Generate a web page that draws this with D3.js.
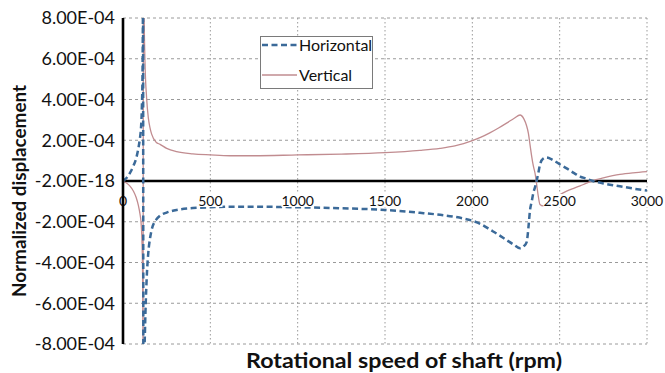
<!DOCTYPE html>
<html>
<head>
<meta charset="utf-8">
<script src="https://cdn.jsdelivr.net/npm/d3@7/dist/d3.min.js"></script>
<style>
  html, body { margin: 0; padding: 0; background: #fff; }
  svg { display: block; }
  text { font-family: Lato, "Open Sans", "DejaVu Sans", sans-serif; fill: #111; }
</style>
</head>
<body>
<svg id="chart" width="665" height="373"></svg>
<script>
// Shaft speed samples (rpm); the first resonance sits between 115 and 117 rpm
const rpm = [0, 20, 40, 60, 75, 88, 97, 103, 108, 112, 115, 117, 120, 126, 135, 145, 155, 164, 190, 212, 250, 307, 400, 500, 613, 750, 1000, 1250, 1500, 1700, 1815, 1900, 1950, 2000, 2050, 2100, 2150, 2196, 2240, 2273, 2295, 2311, 2321, 2330, 2340, 2349, 2359, 2368, 2378, 2387, 2406, 2425, 2445, 2464, 2500, 2540, 2580, 2617, 2650, 2690, 2750, 2845, 2920, 3000];

// Normalized displacement, in units of 1e-4
const horizontal = [0, 0.15, 0.4, 0.75, 1.1, 1.6, 2.1, 2.6, 3.6, 5.5, 10, -16, -10, -7.3, -4.9, -3.5, -2.8, -2.4, -1.9, -1.7, -1.55, -1.42, -1.33, -1.29, -1.26, -1.26, -1.29, -1.34, -1.42, -1.56, -1.66, -1.76, -1.84, -1.95, -2.12, -2.38, -2.64, -2.9, -3.14, -3.3, -3.2, -3.0, -2.3, -1.45, -1.0, -0.6, -0.3, 0, 0.4, 0.79, 1.1, 1.16, 1.1, 1.02, 0.82, 0.62, 0.4, 0.22, 0.12, 0.0, -0.12, -0.26, -0.37, -0.47];
const vertical = [0, -0.1, -0.25, -0.5, -0.8, -1.2, -1.6, -2.0, -2.8, -4.5, -9, 16, 9, 5.8, 4.1, 3.1, 2.6, 2.3, 1.9, 1.8, 1.6, 1.44, 1.33, 1.28, 1.24, 1.24, 1.28, 1.32, 1.39, 1.5, 1.6, 1.72, 1.83, 1.98, 2.15, 2.36, 2.6, 2.84, 3.08, 3.24, 3.05, 2.7, 2.34, 1.8, 1.2, 0.75, 0.38, -0.15, -0.77, -1.15, -1.22, -1.15, -1.0, -0.9, -0.68, -0.5, -0.36, -0.24, -0.12, 0.02, 0.15, 0.32, 0.4, 0.46];

// Index of the first sample past the resonance jump
const resonanceSplit = 11;

// Axis ticks and their printed labels
const xTicks = [0, 500, 1000, 1500, 2000, 2500, 3000];
const yTicks = [8, 6, 4, 2, 0, -2, -4, -6, -8];
const yTickLabels = ["8.00E-04", "6.00E-04", "4.00E-04", "2.00E-04", "-2.00E-18", "-2.00E-04", "-4.00E-04", "-6.00E-04", "-8.00E-04"];

const seriesNames = ["Horizontal", "Vertical"];

const svg = d3.select("#chart");
const plotLeft = 123, plotRight = 647, plotTop = 18, plotBottom = 344;

const x = d3.scaleLinear().domain([0, 3000]).range([plotLeft, plotRight]);
const y = d3.scaleLinear().domain([-8, 8]).range([plotBottom, plotTop]);

// Gridlines
const grid = svg.append("g");
grid.selectAll("line.h").data(yTicks.filter(d => d !== 0)).join("line")
  .attr("class", "h")
  .attr("x1", plotLeft).attr("x2", plotRight)
  .attr("y1", d => y(d)).attr("y2", d => y(d))
  .attr("stroke", "#9a9a9a").attr("stroke-width", 1).attr("stroke-dasharray", "3,3");
grid.selectAll("line.v").data(xTicks.filter(d => d !== 0)).join("line")
  .attr("class", "v")
  .attr("x1", d => x(d)).attr("x2", d => x(d))
  .attr("y1", plotTop).attr("y2", plotBottom)
  .attr("stroke", "#9a9a9a").attr("stroke-width", 1).attr("stroke-dasharray", "1.5,2.5");

// Horizontal axis line through zero
svg.append("line")
  .attr("x1", plotLeft).attr("x2", plotRight).attr("y1", y(0)).attr("y2", y(0))
  .attr("stroke", "#000").attr("stroke-width", 2.6);

// Series, clipped to the plot area
svg.append("clipPath").attr("id", "plot-clip").append("rect")
  .attr("x", plotLeft).attr("y", plotTop).attr("width", plotRight - plotLeft).attr("height", plotBottom - plotTop);

const lineGen = d3.line().x(d => x(d[0])).y(d => y(d[1])).curve(d3.curveMonotoneX);

// Smooth each side of the resonance, joined by a straight jump
function seriesPath(values) {
  const pts = rpm.map((r, i) => [r, values[i]]);
  const before = lineGen(pts.slice(0, resonanceSplit));
  const after = lineGen(pts.slice(resonanceSplit));
  return before + after.replace(/^M/, "L");
}

const plot = svg.append("g").attr("clip-path", "url(#plot-clip)");
plot.append("path")
  .attr("d", seriesPath(vertical)).attr("fill", "none")
  .attr("stroke", "#c18c90").attr("stroke-width", 1.3);
plot.append("path")
  .attr("d", seriesPath(horizontal)).attr("fill", "none")
  .attr("stroke", "#3b6a99").attr("stroke-width", 2.5).attr("stroke-dasharray", "6,3.5");

// X tick labels sit just under the zero line
const xl = svg.append("g");
xTicks.forEach(t => {
  const g = xl.append("g");
  const txt = g.append("text")
    .attr("x", x(t)).attr("y", y(0) + 25)
    .attr("text-anchor", "middle")
    .attr("font-size", 14)
    .text(d3.format("d")(t));
  const bb = txt.node().getBBox();
  g.insert("rect", "text")
    .attr("x", bb.x).attr("y", bb.y + 2).attr("width", bb.width).attr("height", bb.height - 4)
    .attr("fill", "#fff");
});

// Y tick labels
svg.append("g").selectAll("text").data(yTicks).join("text")
  .attr("x", 115).attr("y", d => y(d))
  .attr("dy", "0.36em")
  .attr("text-anchor", "end")
  .attr("font-size", 18)
  .text((d, i) => yTickLabels[i]);

// Vertical axis line
svg.append("line")
  .attr("x1", plotLeft).attr("x2", plotLeft).attr("y1", plotTop).attr("y2", plotBottom)
  .attr("stroke", "#000").attr("stroke-width", 2.6);

// Axis titles
svg.append("text")
  .attr("x", 404).attr("y", 368)
  .attr("text-anchor", "middle")
  .attr("font-size", 20).attr("font-weight", "bold")
  .attr("textLength", 316).attr("lengthAdjust", "spacingAndGlyphs")
  .text("Rotational speed of shaft (rpm)");
svg.append("text")
  .attr("transform", "translate(26,191) rotate(-90)")
  .attr("text-anchor", "middle")
  .attr("font-size", 19.5).attr("font-weight", "bold")
  .attr("textLength", 212).attr("lengthAdjust", "spacingAndGlyphs")
  .text("Normalized displacement");

// Legend
const lg = svg.append("g");
lg.append("rect").attr("x", 260.5).attr("y", 36.5).attr("width", 112).attr("height", 52)
  .attr("fill", "#fff").attr("stroke", "#7a7a7a").attr("stroke-width", 1);
lg.append("line").attr("x1", 262).attr("x2", 297).attr("y1", 45).attr("y2", 45)
  .attr("stroke", "#3b6a99").attr("stroke-width", 2.5).attr("stroke-dasharray", "6,3.5");
lg.append("line").attr("x1", 262).attr("x2", 297).attr("y1", 75).attr("y2", 75)
  .attr("stroke", "#c18c90").attr("stroke-width", 1.3);
lg.append("text").attr("x", 299).attr("y", 51).attr("font-size", 16).text(seriesNames[0]);
lg.append("text").attr("x", 299).attr("y", 81).attr("font-size", 16).text(seriesNames[1]);
</script>
</body>
</html>
